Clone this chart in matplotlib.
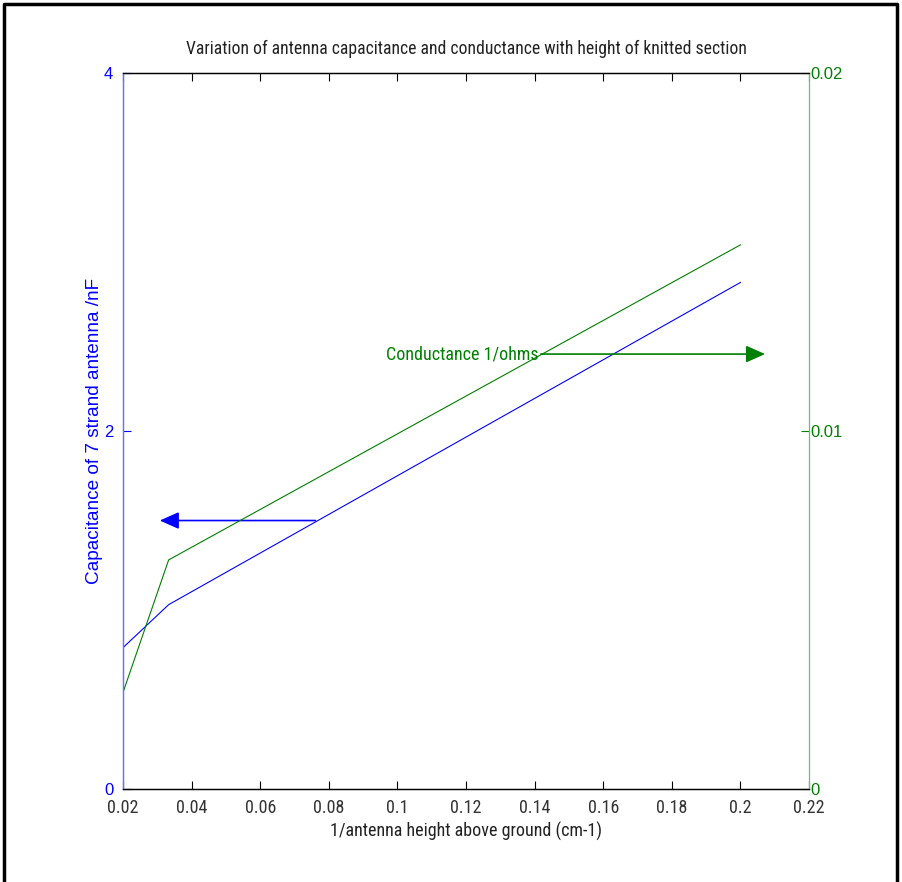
"""Antenna capacitance / conductance vs 1/height, MATLAB-style twin axes."""

import matplotlib
matplotlib.use("Agg")
import matplotlib.pyplot as plt
from matplotlib.lines import Line2D

# ── data ──────────────────────────────────────────────────────────────────
inv_height   = [0.02, 0.0333, 0.2]          # 1/antenna height (cm-1)
capacitance  = [0.79, 1.03, 2.83]           # nF
conductance  = [0.0027, 0.0064, 0.0152]     # 1/ohms

x_ticks   = [0.02, 0.04, 0.06, 0.08, 0.1, 0.12, 0.14, 0.16, 0.18, 0.2, 0.22]
x_labels  = ["0.02", "0.04", "0.06", "0.08", "0.1", "0.12", "0.14", "0.16", "0.18", "0.2", "0.22"]
cap_ticks = [0, 2, 4]
cond_ticks = [0, 0.01, 0.02]
cond_labels = ["0", "0.01", "0.02"]

cap_arrow  = (0.0769, 0.0299, 1.5)      # tail x, head x, y (left axis)
cond_arrow = (0.141, 0.208, 0.01215)    # tail x, head x, y (right axis)

BLUE, GREEN = "#0000ff", "#008000"
NARROW = ["Roboto Condensed", "DejaVu Sans"]
REG = ["Liberation Sans", "DejaVu Sans"]

fig = plt.figure(figsize=(9.02, 8.82), dpi=100)
ax = fig.add_axes([0.1364, 0.1054, 0.7605, 0.8118])
ax2 = ax.twinx()

ax.plot(inv_height, capacitance, color=BLUE, linewidth=0.8)
ax2.plot(inv_height, conductance, color=GREEN, linewidth=0.8)

ax.set_xlim(0.02, 0.22)
ax.set_ylim(0, 4)
ax2.set_ylim(0, 0.02)

ax.set_xticks(x_ticks)
ax.set_xticklabels(x_labels, fontfamily=NARROW, fontsize=13, color="#333333")
ax.set_yticks(cap_ticks)
ax.set_yticklabels([str(t) for t in cap_ticks], fontfamily=REG, fontsize=12, color=BLUE)
ax2.set_yticks(cond_ticks)
ax2.set_yticklabels(cond_labels, fontfamily=REG, fontsize=12, color=GREEN)

ax.tick_params(axis="x", direction="in", length=6, top=True, width=0.8, pad=7)
ax.tick_params(axis="y", direction="in", length=6, colors=BLUE, width=0.8, pad=7)
ax2.tick_params(axis="y", direction="in", length=6, colors=GREEN, width=0.8, pad=1)

for a in (ax, ax2):
    for s in a.spines.values():
        s.set_linewidth(0.9)
ax2.spines["left"].set_color("#6f6fff")
ax.spines["left"].set_color("#6f6fff")
ax2.spines["right"].set_color("#6fbf6f")
ax.spines["right"].set_visible(False)

ax.set_title("Variation of antenna capacitance and conductance with height of knitted section",
             fontfamily=NARROW, fontsize=12.7, pad=14, color="#222222")
ax.set_xlabel("1/antenna height above ground (cm-1)", fontfamily=NARROW, fontsize=13,
              labelpad=4, color="#222222")
ax.set_ylabel("Capacitance of 7 strand antenna /nF", fontfamily=REG, fontsize=13.7,
              color=BLUE, labelpad=1)

# arrows pointing to the relevant axis
ax.annotate("", xy=(cap_arrow[1], cap_arrow[2]), xytext=(cap_arrow[0], cap_arrow[2]),
            arrowprops=dict(arrowstyle="-|>,head_length=0.9,head_width=0.4",
                            color=BLUE, lw=1.2, mutation_scale=13))
ax2.annotate("", xy=(cond_arrow[1], cond_arrow[2]), xytext=(cond_arrow[0], cond_arrow[2]),
             arrowprops=dict(arrowstyle="-|>,head_length=0.9,head_width=0.4",
                             color=GREEN, lw=1.2, mutation_scale=13))
ax2.text(cond_arrow[0], cond_arrow[2], "Conductance 1/ohms", color=GREEN,
         fontfamily=NARROW, fontsize=13, ha="right", va="center")

# screenshot frame
fig.add_artist(Line2D([0.004, 0.004, 0.995, 0.995], [0.0, 0.995, 0.995, 0.0],
                      transform=fig.transFigure, color="black", linewidth=2.5))

fig.savefig("out.png", dpi=100)
